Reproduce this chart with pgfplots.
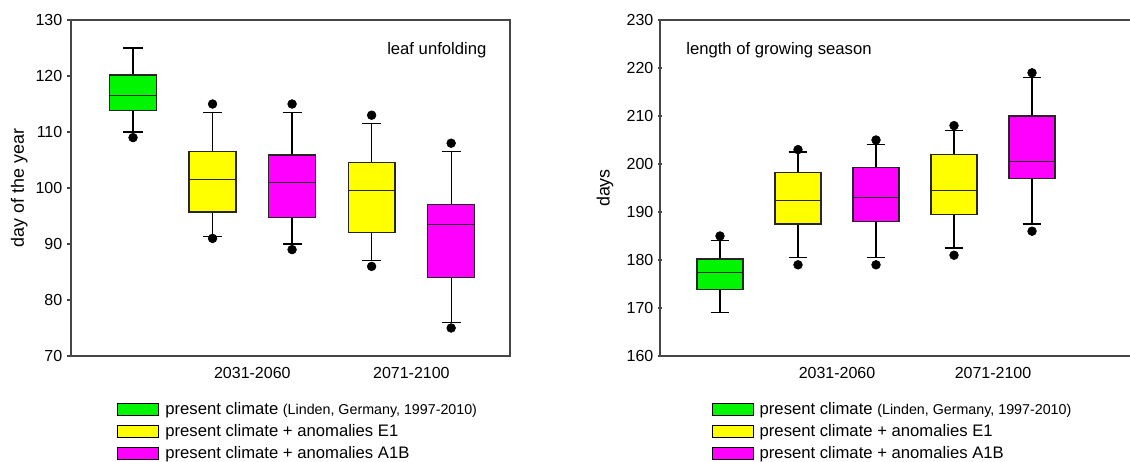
\documentclass[border=0pt]{standalone}
\usepackage{pgfplots}
\pgfplotsset{compat=1.18}
\usepackage{fontspec}
\setmainfont{Liberation Sans}
\definecolor{bgreen}{RGB}{0,245,0}
\definecolor{byellow}{RGB}{255,255,0}
\definecolor{bmag}{RGB}{255,0,255}
\definecolor{axgray}{RGB}{70,70,70}
\pgfplotsset{
  mybox/.style={
    scale only axis,
    /pgf/number format/assume math mode=true,
    font=\fontsize{12}{14.4}\selectfont,
    ymin=#1,
    ytick distance=10,
    tick align=outside,
    ytick pos=left,
    major tick length=3pt,
    every tick/.style={axgray, line width=0.9pt},
    xtick={2.5,4.5},
    xticklabels={2031-2060,2071-2100},
    major x tick style={draw=none},
    xticklabel style={yshift=-2pt},
    ylabel style={font=\fontsize{13.4}{16}\selectfont},
    axis line style={axgray, line width=1.1pt},
    unbounded coords=jump,
    legend image code/.code={\draw[##1, line width=0.7pt] (0pt,-4.5pt) rectangle (30.75pt,4.5pt);},
    legend style={draw=none, fill=none, anchor=north west, legend cell align=left,
      font=\fontsize{12.5}{15}\selectfont, row sep=3pt, column sep=3pt,
      nodes={inner sep=1.5pt}},
  },
  wh/.style={forget plot, black, line width=0.95pt, no marks},
  bx/.style={forget plot, draw=black!85, line width=0.95pt, no marks, fill=#1},
  md/.style={forget plot, black!85, line width=1pt, no marks},
  ol/.style={forget plot, only marks, mark=*, mark size=3.3pt, black, mark options={fill=black}},
}
\begin{document}
\begin{tikzpicture}
\useasboundingbox (0pt,0pt) rectangle (847.5pt,-345.75pt);
% ---------- left: leaf unfolding ----------
\begin{axis}[mybox=70,
  at={(53.25pt,-267pt)}, anchor=south west,
  width=329.25pt, height=252pt,
  ymax=130, xmin=0.22, xmax=5.74,
  ylabel={day of the year},
  ylabel style={at={(axis description cs:-0.118,0.5)}, anchor=center},
  legend style={at={(axis description cs:0.096,-0.122)}},
]
% box 1 (green): lw 110, q1 113.8, med 116.5, q3 120.2, uw 125
\addplot[wh] coordinates {(0.88,125) (1.12,125) (1,nan) (1,125) (1,120.2) (1,nan) (1,113.8) (1,110) (1,nan) (0.88,110) (1.12,110)};
\addplot[bx=bgreen] coordinates {(0.705,113.8) (1.295,113.8) (1.295,120.2) (0.705,120.2)} -- cycle;
\addplot[md] coordinates {(0.705,116.5) (1.295,116.5)};
\addplot[ol] coordinates {(1,109)};
% box 2 (yellow): 91.4, 95.7, 101.5, 106.5, 113.5
\addplot[wh] coordinates {(1.88,113.5) (2.12,113.5) (2,nan) (2,113.5) (2,106.5) (2,nan) (2,95.7) (2,91.4) (2,nan) (1.88,91.4) (2.12,91.4)};
\addplot[bx=byellow] coordinates {(1.705,95.7) (2.295,95.7) (2.295,106.5) (1.705,106.5)} -- cycle;
\addplot[md] coordinates {(1.705,101.5) (2.295,101.5)};
\addplot[ol] coordinates {(2,115) (2,91)};
% box 3 (magenta): 90, 94.7, 101, 105.9, 113.5
\addplot[wh] coordinates {(2.88,113.5) (3.12,113.5) (3,nan) (3,113.5) (3,105.9) (3,nan) (3,94.7) (3,90) (3,nan) (2.88,90) (3.12,90)};
\addplot[bx=bmag] coordinates {(2.705,94.7) (3.295,94.7) (3.295,105.9) (2.705,105.9)} -- cycle;
\addplot[md] coordinates {(2.705,101) (3.295,101)};
\addplot[ol] coordinates {(3,115) (3,89)};
% box 4 (yellow): 87, 92, 99.5, 104.5, 111.5
\addplot[wh] coordinates {(3.88,111.5) (4.12,111.5) (4,nan) (4,111.5) (4,104.5) (4,nan) (4,92) (4,87) (4,nan) (3.88,87) (4.12,87)};
\addplot[bx=byellow] coordinates {(3.705,92) (4.295,92) (4.295,104.5) (3.705,104.5)} -- cycle;
\addplot[md] coordinates {(3.705,99.5) (4.295,99.5)};
\addplot[ol] coordinates {(4,113) (4,86)};
% box 5 (magenta): 76, 84, 93.5, 97, 106.5
\addplot[wh] coordinates {(4.88,106.5) (5.12,106.5) (5,nan) (5,106.5) (5,97) (5,nan) (5,84) (5,76) (5,nan) (4.88,76) (5.12,76)};
\addplot[bx=bmag] coordinates {(4.705,84) (5.295,84) (5.295,97) (4.705,97)} -- cycle;
\addplot[md] coordinates {(4.705,93.5) (5.295,93.5)};
\addplot[ol] coordinates {(5,108) (5,75)};
\node[anchor=east, font=\fontsize{12.5}{15}\selectfont] at (rel axis cs:0.957,0.91) {leaf unfolding};
\addlegendimage{fill=bgreen, draw=black}
\addlegendentry{present climate {\fontsize{10.7}{12}\selectfont (Linden, Germany, 1997-2010)}}
\addlegendimage{fill=byellow, draw=black}
\addlegendentry{present climate + anomalies E1}
\addlegendimage{fill=bmag, draw=black}
\addlegendentry{present climate + anomalies A1B}
\end{axis}
% ---------- right: growing season ----------
\begin{axis}[mybox=160,
  at={(495pt,-267pt)}, anchor=south west,
  width=352.5pt, height=252pt,
  ymax=230, xmin=0.231, xmax=6.256,
  axis x line=box, axis y line=left, axis line style={-},
  ylabel={days},
  ylabel style={at={(axis description cs:-0.117,0.5)}, anchor=center},
  legend style={at={(axis description cs:0.101,-0.122)}},
]
% box 1 (green): 169, 173.8, 177.4, 180.2, 184
\addplot[wh] coordinates {(0.88,184) (1.12,184) (1,nan) (1,184) (1,180.2) (1,nan) (1,173.8) (1,169) (1,nan) (0.88,169) (1.12,169)};
\addplot[bx=bgreen] coordinates {(0.705,173.8) (1.295,173.8) (1.295,180.2) (0.705,180.2)} -- cycle;
\addplot[md] coordinates {(0.705,177.4) (1.295,177.4)};
\addplot[ol] coordinates {(1,185)};
% box 2 (yellow): 180.5, 187.5, 192.4, 198.2, 202.5
\addplot[wh] coordinates {(1.88,202.5) (2.12,202.5) (2,nan) (2,202.5) (2,198.2) (2,nan) (2,187.5) (2,180.5) (2,nan) (1.88,180.5) (2.12,180.5)};
\addplot[bx=byellow] coordinates {(1.705,187.5) (2.295,187.5) (2.295,198.2) (1.705,198.2)} -- cycle;
\addplot[md] coordinates {(1.705,192.4) (2.295,192.4)};
\addplot[ol] coordinates {(2,203) (2,179)};
% box 3 (magenta): 180.5, 188, 193, 199.3, 204
\addplot[wh] coordinates {(2.88,204) (3.12,204) (3,nan) (3,204) (3,199.3) (3,nan) (3,188) (3,180.5) (3,nan) (2.88,180.5) (3.12,180.5)};
\addplot[bx=bmag] coordinates {(2.705,188) (3.295,188) (3.295,199.3) (2.705,199.3)} -- cycle;
\addplot[md] coordinates {(2.705,193) (3.295,193)};
\addplot[ol] coordinates {(3,205) (3,179)};
% box 4 (yellow): 182.5, 189.5, 194.5, 202, 207
\addplot[wh] coordinates {(3.88,207) (4.12,207) (4,nan) (4,207) (4,202) (4,nan) (4,189.5) (4,182.5) (4,nan) (3.88,182.5) (4.12,182.5)};
\addplot[bx=byellow] coordinates {(3.705,189.5) (4.295,189.5) (4.295,202) (3.705,202)} -- cycle;
\addplot[md] coordinates {(3.705,194.5) (4.295,194.5)};
\addplot[ol] coordinates {(4,208) (4,181)};
% box 5 (magenta): 187.5, 197, 200.5, 210, 218
\addplot[wh] coordinates {(4.88,218) (5.12,218) (5,nan) (5,218) (5,210) (5,nan) (5,197) (5,187.5) (5,nan) (4.88,187.5) (5.12,187.5)};
\addplot[bx=bmag] coordinates {(4.705,197) (5.295,197) (5.295,210) (4.705,210)} -- cycle;
\addplot[md] coordinates {(4.705,200.5) (5.295,200.5)};
\addplot[ol] coordinates {(5,219) (5,186)};
\node[anchor=west, font=\fontsize{12.5}{15}\selectfont] at (rel axis cs:0.046,0.91) {length of growing season};
\addlegendimage{fill=bgreen, draw=black}
\addlegendentry{present climate {\fontsize{10.7}{12}\selectfont (Linden, Germany, 1997-2010)}}
\addlegendimage{fill=byellow, draw=black}
\addlegendentry{present climate + anomalies E1}
\addlegendimage{fill=bmag, draw=black}
\addlegendentry{present climate + anomalies A1B}
\end{axis}
\end{tikzpicture}
\end{document}
